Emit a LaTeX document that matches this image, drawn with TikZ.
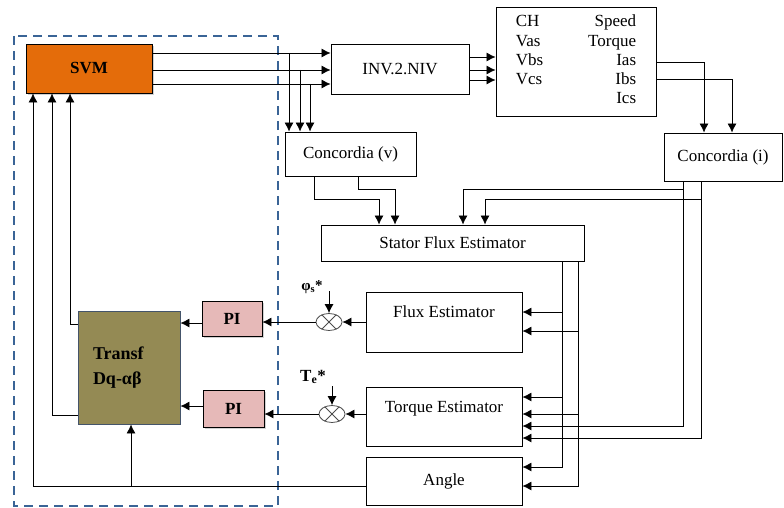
\documentclass[tikz,border=0pt]{standalone}
\usepackage{fontspec}
\setmainfont{Liberation Serif}
\usetikzlibrary{arrows.meta,positioning,shapes.geometric,shadows}
\definecolor{svmorange}{RGB}{228,108,10}
\definecolor{transfolive}{RGB}{148,138,84}
\definecolor{transfedge}{RGB}{68,84,106}
\definecolor{pipink}{RGB}{230,185,184}
\definecolor{zoneblue}{RGB}{58,100,150}

\begin{document}
\begin{tikzpicture}[x=1pt, y=-1pt,
    every node/.style={font=\fontsize{17}{19.3}\selectfont},
    blk/.style={draw, line width=0.9pt, inner sep=0pt},
    arr/.style={-{Latex[length=9pt,width=9pt]}, line width=0.8pt},
    est/.style={blk, minimum width=156pt, text height=12pt, text depth=21pt},
    sumj/.style={draw=black!70, ellipse, minimum width=26pt, minimum height=17pt, inner sep=0pt, line width=0.8pt},
    shade/.style={drop shadow={shadow xshift=2pt, shadow yshift=-2pt, fill=black!30, opacity=0.6}}]
    \useasboundingbox (0,0) rectangle (784,508);

    % Control part
    \draw[zoneblue, line width=1.3pt, dash pattern=on 9pt off 6pt] (14,36) rectangle (278,506);

    % Blocks
    \node[blk, shade, fill=svmorange, minimum width=126pt, minimum height=49pt, font=\fontsize{17}{19}\selectfont\bfseries] (svm) at (89,68.5) {SVM};
    \node[blk, minimum width=138pt, minimum height=50pt] (inv) at (400,69) {INV.2.NIV};
    \node[blk, minimum width=160pt, minimum height=109pt] (mach) at (576,61.5) {%
        \begin{tabular}{@{}l@{\hspace{45pt}}r@{}}
            CH & Speed\\ Vas & Torque\\ Vbs & Ias\\ Vcs & Ibs\\ & Ics
        \end{tabular}};
    \node[blk, minimum width=131pt, minimum height=44pt] (concv) at (350.5,154) {Concordia (v)};
    \node[blk, minimum width=118pt, minimum height=48pt] (conci) at (723,157) {Concordia (i)};
    \node[blk, minimum width=263pt, minimum height=36pt] (sfe) at (452.5,243) {Stator Flux Estimator};
    \node[est, minimum height=60pt] (fluxe) at (444,322) {Flux Estimator};
    \node[est, minimum height=59pt] (torqe) at (444,416.5) {Torque Estimator};
    \node[blk, minimum width=156pt, minimum height=48pt] (angle) at (444,481) {Angle};

    % Regulators
    \node[blk, shade, fill=pipink, minimum width=60pt, minimum height=35pt, font=\fontsize{17}{19}\selectfont\bfseries] (pi1) at (232,318.5) {PI};
    \node[blk, shade, fill=pipink, minimum width=61pt, minimum height=37pt, font=\fontsize{17}{19}\selectfont\bfseries] (pi2) at (233.5,408.5) {PI};
    \node[blk, draw=transfedge, fill=transfolive, minimum width=102pt, minimum height=113pt, text width=72pt, align=left, font=\fontsize{18}{25}\selectfont\bfseries] (transf) at (129,367.5) {Transf\\Dq-αβ};

    % Comparators
    \node[sumj] (sum1) at (329,322) {};
    \node[sumj] (sum2) at (332,414) {};
    \draw[black!70, line width=0.8pt] (sum1.45) -- (sum1.225) (sum1.135) -- (sum1.315);
    \draw[black!70, line width=0.8pt] (sum2.45) -- (sum2.225) (sum2.135) -- (sum2.315);
    \node[font=\fontsize{15}{17}\selectfont\bfseries] (fluxref) at (312,287) {φ\textsubscript{s}*};
    \node[font=\fontsize{17}{19}\selectfont\bfseries] (torqref) at (313,377) {T\textsubscript{e}*};
    \draw[arr] (sum1.north |- 0,291) -- (sum1.north);
    \draw[arr] (sum2.north |- 0,386) -- (sum2.north);

    % Edges - top
    \foreach \y/\x in {53/289, 70/300, 84/310} {
        \draw[arr] (svm.east |- 0,\y) -- (inv.west |- 0,\y);
        \draw[arr] (\x,\y) -- (concv.north -| \x,0);
    }
    \foreach \y in {57, 70, 80}
        \draw[arr] (inv.east |- 0,\y) -- (mach.west |- 0,\y);
    \draw[arr] (mach.east |- 0,62) -| (conci.north -| 704,0);
    \draw[arr] (mach.east |- 0,79) -| (conci.north -| 732,0);

    % Edges - Concordia
    \draw[arr] (concv.south -| 314,0) |- (379,199) -- (sfe.north -| 379,0);
    \draw[arr] (concv.south -| 358,0) |- (395,189) -- (sfe.north -| 395,0);
    \draw[arr] (conci.south -| 683,0) |- (463,189) -- (sfe.north -| 463,0);
    \draw[arr] (conci.south -| 701,0) |- (485,199) -- (sfe.north -| 485,0);
    \draw[arr] (conci.south -| 683,0) |- (torqe.east |- 0,426);
    \draw[arr] (conci.south -| 701,0) |- (torqe.east |- 0,438);

    % Edges - estimators
    \draw[arr] (sfe.south -| 562,0) |- (angle.east |- 0,467);
    \draw[arr] (sfe.south -| 578,0) |- (angle.east |- 0,486);
    \foreach \x/\y in {562/312, 578/331}
        \draw[arr] (\x,\y) -- (fluxe.east |- 0,\y);
    \foreach \x/\y in {562/397, 578/414}
        \draw[arr] (\x,\y) -- (torqe.east |- 0,\y);
    \draw[arr] (fluxe.west) -- (sum1.east);
    \draw[arr] (torqe.west |- sum2.east) -- (sum2.east);
    \draw[arr] (sum1.west) -- (pi1.east |- sum1.west);
    \draw[arr] (sum2.west) -- (pi2.east |- sum2.west);
    \draw[arr] (pi1.west |- 0,323) -- (transf.east |- 0,323);
    \draw[arr] (pi2.west |- 0,406) -- (transf.east |- 0,406);

    % Edges - back to SVM
    \draw[arr] (transf.west |- 0,324) -| (svm.south -| 70,0);
    \draw[arr] (transf.west |- 0,415) -| (svm.south -| 52,0);
    \draw[arr] (angle.west |- 0,486) -| (svm.south -| 33,0);
    \draw[arr] (131,486) -- (transf.south -| 131,0);
\end{tikzpicture}
\end{document}
